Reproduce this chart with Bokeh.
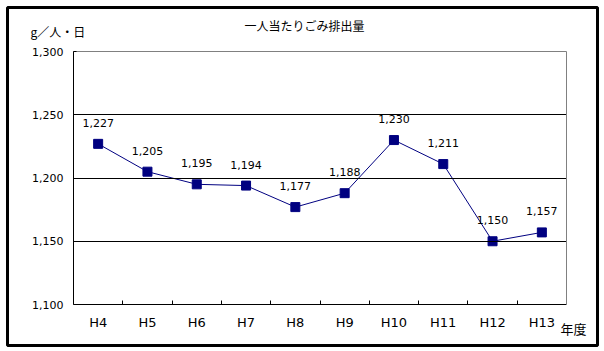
from bokeh.plotting import figure
from bokeh.models import Range1d, FixedTicker, Label, ColumnDataSource, LinearAxis
from bokeh.core.properties import value
from bokeh.embed import file_html
from bokeh.resources import INLINE

categories = ["H4", "H5", "H6", "H7", "H8", "H9", "H10", "H11", "H12", "H13"]
values = [1227, 1205, 1195, 1194, 1177, 1188, 1230, 1211, 1150, 1157]
y_ticks = [1100, 1150, 1200, 1250, 1300]
y_tick_labels = ["1,100", "1,150", "1,200", "1,250", "1,300"]
grid_values = [1150, 1200, 1250]
title_text = "一人当たりごみ排出量"
y_unit = "g／人・日"
x_unit = "年度"

xs = [i + 0.5 for i in range(len(categories))]
src = ColumnDataSource(dict(x=xs, y=values, lab=[f"{v:,}" for v in values]))

W, H = 604, 351
# plot area (axes box) in pixels
PL, PR, PT, PB = 73, 566, 51, 304
# outer chart border (frame) in pixels
OL, OR, OT, OB = 7, 597, 7, 345
X0, X1 = 0, len(categories)
Y0, Y1 = 1100, 1300
sx = (X1 - X0) / (PR - PL)
sy = (Y1 - Y0) / (PB - PT)

def px_to_x(px):
    return X0 + (px - PL) * sx

def py_to_y(py):
    return Y0 + (PB - py) * sy

p = figure(width=W, height=H, output_backend="svg", toolbar_location=None,
           x_range=Range1d(px_to_x(OL), px_to_x(OR)),
           y_range=Range1d(py_to_y(OB), py_to_y(OT)),
           min_border_left=OL, min_border_right=W - OR, min_border_top=OT,
           min_border_bottom=H - OB)
p.background_fill_color = "white"
p.border_fill_color = "white"
p.outline_line_color = "black"
p.outline_line_width = 3
p.xgrid.visible = False
p.ygrid.visible = False

FONT = "Noto Sans CJK JP"

# main x axis (drawn at the bottom of the plot area)
xax = p.below[0]
xax.fixed_location = Y0
xax.bounds = (X0, X1)
xax.ticker = FixedTicker(ticks=xs, minor_ticks=list(range(1, len(categories))))
xax.major_label_overrides = {x: c for x, c in zip(xs, categories)}
xax.major_tick_line_color = None
xax.minor_tick_in = 4
xax.minor_tick_out = 0
xax.minor_tick_line_color = "black"
xax.axis_line_color = "black"
xax.major_label_standoff = 4
xax.major_label_text_font = "DejaVu Sans"
xax.major_label_text_font_size = "13px"
xax.major_label_text_color = "black"

# main y axis (drawn at the left of the plot area)
yax = p.left[0]
yax.fixed_location = X0
yax.bounds = (Y0, Y1)
yax.ticker = FixedTicker(ticks=y_ticks)
yax.major_label_overrides = {t: l for t, l in zip(y_ticks, y_tick_labels)}
yax.major_tick_in = 3
yax.major_tick_out = 0
yax.minor_tick_line_color = None
yax.axis_line_color = "black"
yax.major_label_standoff = 10
yax.major_label_text_font = "DejaVu Sans"
yax.major_label_text_font_size = "11px"
yax.major_label_text_color = "black"

def bare_line(loc, bounds, color, where):
    ax = LinearAxis(fixed_location=loc, bounds=bounds, ticker=FixedTicker(ticks=[]),
                    axis_line_color=color, axis_line_width=1,
                    major_tick_line_color=None, minor_tick_line_color=None,
                    major_label_text_font_size="0px")
    p.add_layout(ax, where)

# horizontal gridlines limited to the plot area
for g in grid_values:
    bare_line(g, (X0, X1), "black", "above")
# grey top and right edges of the plot area
bare_line(Y1, (X0, X1), "#808080", "above")
bare_line(X1, (Y0, Y1), "#808080", "right")

p.line("x", "y", source=src, line_color="#000080", line_width=1)
p.scatter("x", "y", source=src, marker="square", size=9,
          fill_color="#000080", line_color="#000080")
p.text("x", "y", text="lab", source=src, y_offset=-21, text_align="center",
       text_baseline="middle", text_font=value("DejaVu Sans"),
       text_font_size="11px", text_color="black")

p.add_layout(Label(x=px_to_x(304), y=py_to_y(25), text=title_text,
                   text_align="center", text_baseline="middle", text_font=FONT,
                   text_font_size="12px", text_color="black"))
p.add_layout(Label(x=px_to_x(30), y=py_to_y(31), text=y_unit,
                   text_align="left", text_baseline="middle", text_font=FONT,
                   text_font_size="12px", text_color="black"))
p.add_layout(Label(x=px_to_x(560), y=py_to_y(328), text=x_unit,
                   text_align="left", text_baseline="middle", text_font=FONT,
                   text_font_size="13px", text_color="black"))

open("out.html", "w").write(file_html(p, INLINE))
